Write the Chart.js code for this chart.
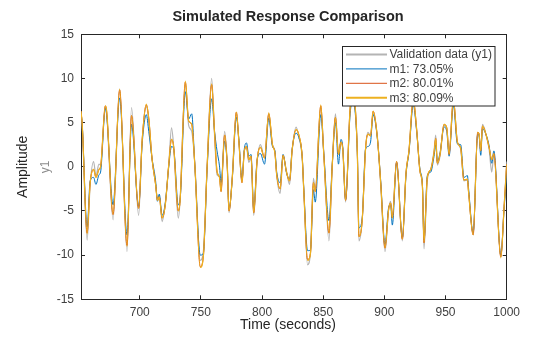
<!DOCTYPE html>
<html>
<head>
<meta charset="utf-8">
<script src="https://cdn.jsdelivr.net/npm/chart.js@4"></script>
<style>
  html, body { margin: 0; padding: 0; background: #fff; }
  canvas { display: block; }
</style>
</head>
<body>
<canvas id="c" width="560" height="337"></canvas>
<script>
// ---- data ----
const chartTitle = "Simulated Response Comparison";
const xAxisLabel = "Time (seconds)";
const yAxisLabel = "Amplitude";
const outputName = "y1";
const seriesLabels = ["Validation data (y1)", "m1: 73.05%", "m2: 80.01%", "m3: 80.09%"];

const xTicks = [700, 750, 800, 850, 900, 950, 1000];
const yTicks = [-15, -10, -5, 0, 5, 10, 15];
const xRange = [652, 1000];
const yRange = [-15, 15];

const sampleTimes = [
  652, 653, 657, 659.5, 662.3, 664.2, 666.7, 668, 671.9, 673,
  678.2, 683.6, 689.6, 693.3, 699.1, 702, 705.4, 707.4, 710, 713,
  714.5, 716, 718.3, 721, 723.7, 726, 727.8, 731.5, 733, 737.3,
  740, 742.5, 745, 749.5, 752, 755.1, 758.8, 761.2, 763.2, 765.2,
  766.5, 769.4, 771.5, 773, 775.6, 779, 781, 783.6, 785.5, 787.3,
  789.2, 791, 793.2, 796, 798.7, 802, 805.5, 808.5, 810.5, 812,
  814.8, 817.2, 820, 822.5, 824.6, 827.8, 830.1, 832.8, 834.1, 837.2,
  839.6, 842, 843.5, 848, 850.5, 854.7, 857.4, 860, 862.5, 864.5,
  866, 868.3, 872, 874, 877.9, 879.2, 881.9, 884.6, 886.6, 888.7,
  890.8, 894.2, 897, 900.5, 903.5, 905.1, 906.5, 910, 914.7, 917.7,
  920.1, 923.6, 926.4, 929.1, 931.1, 932.4, 935.1, 937.9, 940.6, 942,
  943.3, 945.5, 948.8, 951, 952.9, 956.4, 959.7, 962.4, 965, 967.9,
  968.8, 972.6, 976.3, 977.4, 978.8, 980.2, 983.2, 985.6, 987.8, 989.5,
  995.2, 997.9, 1000
];

const validationData = [
  6.0, 4.6, -8.3, -2.0, 0.6, -1.0, 0.3, 0.2, 6.8, 6.0,
  -6.0, 8.8, -9.6, 6.7, -5.5, 3.0, 6.8, 5.3, 1.0, -2.0,
  -3.6, -3.2, -6.2, -4.0, 0.1, 4.4, 2.2, -5.8, -3.8, 9.4,
  4.7, 4.0, 0.5, -10.6, -9.6, 0.0, 10.0, 3.5, -0.9, -1.1,
  -2.6, 4.0, 0.5, -5.2, -1.2, 6.1, 3.0, -1.6, 1.8, 2.2,
  0.5, 1.0, -5.5, 0.6, 2.5, 1.0, 6.0, 2.5, 1.8, -1.0,
  -3.0, 1.2, -0.5, -2.0, 1.8, 4.5, 3.4, 1.0, -2.6, -11.1,
  -9.6, -1.3, -2.5, 6.7, 1.5, -8.4, 0.1, 6.0, 1.5, 2.8,
  2.0, -4.0, 6.5, 8.0, 1.6, -8.4, -6.0, 2.0, 3.9, 3.5,
  6.0, 3.5, -2.0, -9.6, -4.8, -3.9, -5.5, 0.6, -8.4, -0.7,
  1.8, 7.5, 4.2, -0.5, -2.2, -9.3, -1.5, -0.3, 1.8, 3.6,
  0.2, 1.2, 4.7, 4.4, 1.5, 7.5, 2.8, 2.0, -1.6, -1.5,
  -2.8, -7.7, 3.9, 3.7, 1.8, 4.8, 3.6, 2.0, -0.6, 1.4,
  -10.2, -4.5, 0.6
];

const m1Data = [
  6.2, 4.8, -6.8, -1.6, -1.2, -2.0, -0.9, -0.6, 6.6, 5.8,
  -4.3, 7.8, -7.7, 4.8, -4.5, 2.6, 5.9, 4.0, 1.0, -1.6,
  -3.9, -3.1, -5.5, -4.0, 0.0, 2.3, 2.0, -4.3, -3.7, 8.5,
  5.4, 6.0, 0.3, -10.0, -9.8, -0.3, 7.7, 4.0, 1.8, 0.1,
  -1.8, 2.9, 0.3, -4.8, -1.5, 5.6, 3.2, -1.5, 2.0, 2.7,
  1.2, 1.4, -4.8, 0.8, 1.5, 0.3, 5.5, 2.3, 1.8, -0.6,
  -1.8, 1.4, -0.7, -1.4, 2.0, 3.8, 3.3, 1.2, -2.4, -9.5,
  -9.4, -2.6, -4.0, 5.9, 1.5, -6.1, 0.3, 5.0, 0.3, 3.1,
  2.2, -3.7, 6.0, 7.3, 1.6, -6.9, -5.8, 2.0, 2.3, 2.8,
  5.9, 3.3, -1.6, -8.8, -4.6, -4.3, -6.6, 0.5, -8.0, -0.9,
  1.6, 7.0, 4.0, -0.3, -2.0, -8.3, -1.0, -0.6, 1.2, 2.5,
  0.6, 1.6, 4.5, 4.0, 1.2, 7.0, 2.6, 2.5, -1.2, -1.0,
  -2.4, -7.5, 3.7, 3.5, 1.3, 4.3, 3.6, 2.4, 0.4, 1.8,
  -10.0, -4.7, -0.9
];

const m2Data = [
  6.3, 4.8, -7.5, -1.8, -0.3, -1.2, -0.3, 0.0, 6.9, 6.2,
  -5.4, 8.7, -8.9, 5.8, -4.7, 3.0, 7.0, 5.5, 1.0, -2.0,
  -3.8, -3.4, -5.8, -4.2, 0.2, 3.1, 2.2, -5.0, -3.8, 9.6,
  5.2, 4.8, 0.3, -11.3, -10.2, 0.0, 9.3, 3.8, -0.5, -1.2,
  -2.8, 3.6, 0.3, -5.0, -1.4, 6.2, 3.0, -1.8, 1.8, 2.3,
  0.8, 1.2, -5.2, 0.8, 2.2, 1.0, 6.0, 2.5, 1.6, -0.9,
  -2.5, 1.3, -0.6, -1.6, 1.9, 4.2, 3.6, 1.2, -2.6, -10.5,
  -9.8, -1.8, -2.8, 6.9, 1.3, -7.5, 0.2, 5.6, 1.4, 2.8,
  2.0, -3.8, 6.6, 8.0, 1.6, -7.9, -6.0, 2.0, 3.7, 3.5,
  6.3, 3.4, -1.8, -9.2, -4.8, -4.1, -5.8, 0.6, -8.2, -0.7,
  1.8, 7.6, 4.2, -0.5, -2.2, -8.6, -1.2, -0.3, 1.6, 3.2,
  0.4, 1.4, 4.8, 4.4, 1.4, 7.6, 2.8, 2.1, -1.5, -1.4,
  -2.8, -7.7, 3.9, 3.7, 1.8, 4.6, 3.6, 2.2, 0.8, 1.5,
  -10.2, -4.5, 0.3
];

const m3Data = [
  6.3, 4.8, -7.6, -1.8, -0.3, -1.2, -0.3, 0.0, 6.9, 6.3,
  -5.4, 8.8, -9.0, 5.8, -4.7, 3.0, 7.1, 5.5, 1.0, -2.0,
  -3.8, -3.4, -5.8, -4.2, 0.2, 3.1, 2.2, -5.0, -3.8, 9.7,
  5.2, 4.8, 0.3, -11.4, -10.2, 0.0, 9.4, 3.8, -0.5, -1.2,
  -2.8, 3.6, 0.3, -5.0, -1.4, 6.2, 3.0, -1.8, 1.8, 2.3,
  0.8, 1.2, -5.2, 0.8, 2.2, 1.0, 6.1, 2.5, 1.6, -0.9,
  -2.5, 1.3, -0.6, -1.6, 1.9, 4.2, 3.6, 1.2, -2.6, -10.6,
  -9.8, -1.8, -2.8, 7.0, 1.3, -7.5, 0.2, 5.6, 1.4, 2.8,
  2.0, -3.8, 6.6, 8.0, 1.6, -7.9, -6.0, 2.0, 3.7, 3.5,
  6.3, 3.4, -1.8, -9.2, -4.8, -4.1, -5.8, 0.6, -8.2, -0.7,
  1.8, 7.6, 4.2, -0.5, -2.2, -8.6, -1.2, -0.3, 1.6, 3.2,
  0.4, 1.4, 4.8, 4.4, 1.4, 7.6, 2.8, 2.1, -1.5, -1.4,
  -2.8, -7.7, 3.9, 3.7, 1.8, 4.6, 3.6, 2.2, 0.8, 1.5,
  -10.3, -4.5, 0.3
];

const seriesColors = ["#b4b4b4", "#0072bd", "#d95319", "#edb120"];
const seriesWidths = [1.2, 1.0, 1.0, 1.2];

// ---- build chart ----
function toPoints(ys) { return sampleTimes.map((t, i) => ({ x: t, y: ys[i] })); }
const seriesValues = [validationData, m1Data, m2Data, m3Data];

const datasets = seriesValues.map((ys, i) => ({
  label: seriesLabels[i],
  data: toPoints(ys),
  borderColor: seriesColors[i],
  backgroundColor: seriesColors[i],
  borderWidth: seriesWidths[i],
  pointRadius: 0,
  fill: false,
  cubicInterpolationMode: 'monotone',
  order: 4 - i
}));

const axisColor = '#262626';
const textColor = '#404040';
const FONT = "'Liberation Sans', Arial, Helvetica, sans-serif";

function fixTicks(arr) { return function (scale) { scale.ticks = arr.map(v => ({ value: v })); }; }
const plainLabel = v => String(v);
const innerGrid = { display: true, drawOnChartArea: false, drawTicks: true, tickLength: -4, color: axisColor, lineWidth: 1 };
const border = { display: true, color: axisColor, width: 1 };

const boxLegend = {
  id: 'boxLegend',
  afterDraw(chart) {
    const ctx = chart.ctx;
    ctx.save();
    // output name beside the axis
    ctx.fillStyle = '#8c8c8c';
    ctx.font = "12px " + FONT;
    ctx.textAlign = 'center';
    ctx.textBaseline = 'middle';
    ctx.translate(46, (chart.chartArea.top + chart.chartArea.bottom) / 2);
    ctx.rotate(-Math.PI / 2);
    ctx.fillText(outputName, 0, 0);
    ctx.restore();

    ctx.save();
    const bx = 342.5, by = 46.5, bw = 152.5, bh = 59.5;
    ctx.fillStyle = '#ffffff';
    ctx.fillRect(bx, by, bw, bh);
    ctx.strokeStyle = '#262626';
    ctx.lineWidth = 1;
    ctx.strokeRect(bx, by, bw, bh);
    ctx.font = "12px " + FONT;
    ctx.textAlign = 'left';
    ctx.textBaseline = 'middle';
    chart.data.datasets.forEach((ds, i) => {
      const y = 54.5 + i * 14.4;
      ctx.strokeStyle = ds.borderColor;
      ctx.lineWidth = i === 0 || i === 3 ? 2 : 1;
      ctx.beginPath();
      ctx.moveTo(346, y);
      ctx.lineTo(387, y);
      ctx.stroke();
      ctx.fillStyle = textColor;
      ctx.fillText(ds.label, 389.5, y + 0.5);
    });
    ctx.restore();
  }
};

new Chart(document.getElementById('c'), {
  type: 'line',
  data: { datasets },
  options: {
    responsive: false,
    devicePixelRatio: 1,
    animation: false,
    layout: { padding: { left: 16, right: 0, top: 0, bottom: 0 } },
    plugins: {
      legend: { display: false },
      tooltip: { enabled: false },
      title: {
        display: true,
        text: chartTitle,
        color: '#262626',
        font: { family: FONT, size: 14.5, weight: 'bold', lineHeight: 1.2 },
        padding: { top: 8.6, bottom: 8.3 }
      },
      subtitle: {
        display: true,
        position: 'bottom',
        text: xAxisLabel,
        color: '#262626',
        font: { family: FONT, size: 14, lineHeight: 1.2 },
        padding: { top: 0, bottom: 3.6 }
      }
    },
    scales: {
      x: {
        type: 'linear', position: 'bottom',
        min: xRange[0], max: xRange[1],
        afterBuildTicks: fixTicks(xTicks),
        afterFit(s) { s.height = 17.3; },
        grid: innerGrid, border: border,
        ticks: { color: textColor, padding: 10, maxRotation: 0, callback: plainLabel, font: { family: FONT, size: 12 } }
      },
      x2: {
        type: 'linear', position: 'top',
        min: xRange[0], max: xRange[1],
        afterBuildTicks: fixTicks(xTicks),
        afterFit(s) { s.height = 0; },
        grid: innerGrid, border: border,
        ticks: { display: false }
      },
      y: {
        type: 'linear', position: 'left',
        min: yRange[0], max: yRange[1],
        afterBuildTicks: fixTicks(yTicks),
        afterFit(s) { s.width = 65; },
        grid: innerGrid, border: border,
        ticks: { color: textColor, padding: 11, callback: plainLabel, font: { family: FONT, size: 12 } },
        title: {
          display: true, text: yAxisLabel, color: '#262626',
          font: { family: FONT, size: 14, lineHeight: 1 },
          padding: { top: 0, bottom: 0 }
        }
      },
      y2: {
        type: 'linear', position: 'right',
        min: yRange[0], max: yRange[1],
        afterBuildTicks: fixTicks(yTicks),
        afterFit(s) { s.width = 53.3; },
        grid: innerGrid, border: border,
        ticks: { display: false }
      }
    }
  },
  plugins: [boxLegend]
});
</script>
</body>
</html>
